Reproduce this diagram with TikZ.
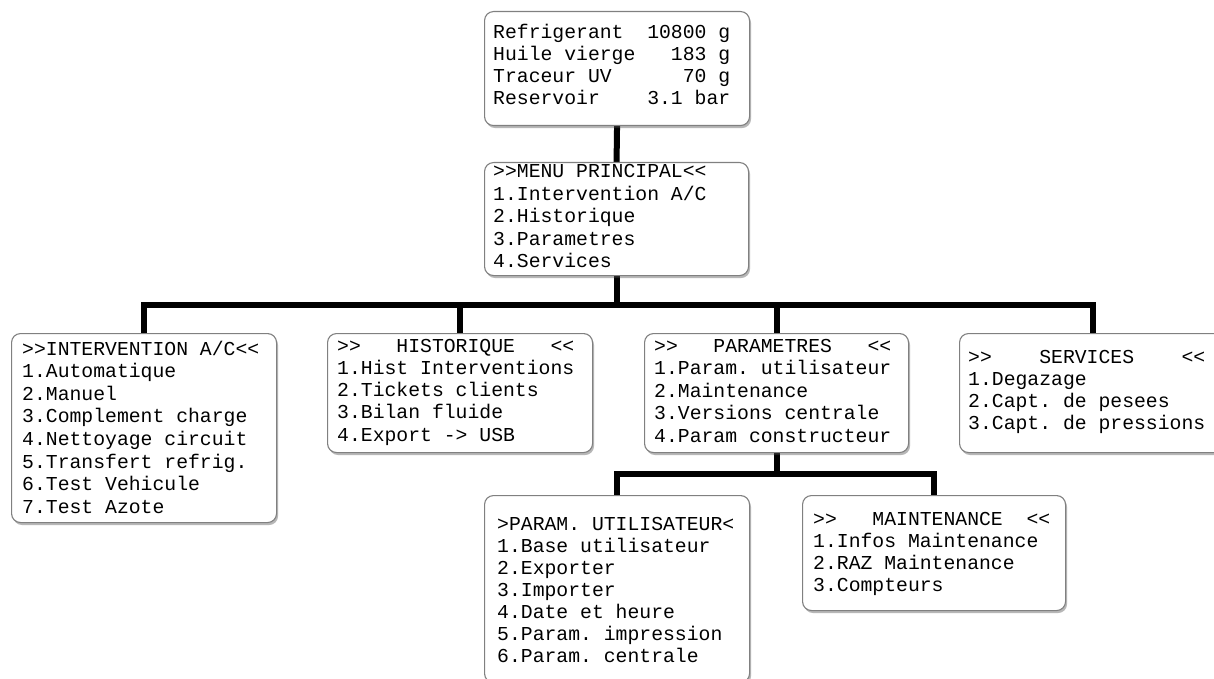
\documentclass[tikz,border=0pt]{standalone}
\usepackage{fontspec}
\newfontfamily\lcd{Liberation Mono}
\usetikzlibrary{shadows,backgrounds}
\begin{document}
\begin{tikzpicture}[x=1pt,y=-1pt,
  box/.style={draw=black!50, line width=1.1pt, fill=white, rounded corners=9pt,
    drop shadow={shadow xshift=1.5pt, shadow yshift=-2.5pt, opacity=0.4, fill=black!70},
    anchor=north west, inner sep=0pt},
  lbl/.style={anchor=base west, inner sep=0pt, font=\lcd\fontsize{19.75}{#1}\selectfont},
  lbl/.default=22.4,
  conn/.style={line width=6pt, line join=miter, draw=black}]
\useasboundingbox (0,0) rectangle (1214,679);

% boxes
\node[box, minimum width=265pt, minimum height=114pt] (top) at (484,11) {};
\node[box, minimum width=264pt, minimum height=113pt] (menu) at (484,162) {};
\node[box, minimum width=265pt, minimum height=189pt] (interv) at (11,333) {};
\node[box, minimum width=265pt, minimum height=119pt] (hist) at (327,333) {};
\node[box, minimum width=264pt, minimum height=119pt] (param) at (644,333) {};
\node[box, minimum width=266pt, minimum height=119pt] (serv) at (959,333) {};
\node[box, minimum width=265pt, minimum height=187pt] (pu) at (484,495) {};
\node[box, minimum width=263pt, minimum height=115pt] (maint) at (802,495) {};

% texts
\node[lbl=21.7] (topT) at (493,39) {\begin{tabular}[t]{@{}l@{}}
Refrigerant~~10800~g\\
Huile~vierge~~~183~g\\
Traceur~UV~~~~~~70~g\\
Reservoir~~~~3.1~bar\end{tabular}};

\node[lbl=22.4] (menuT) at (493,178) {\begin{tabular}[t]{@{}l@{}}
>{}>MENU~PRINCIPAL<{}<\\
1.Intervention~A/C\\
2.Historique\\
3.Parametres\\
4.Services\end{tabular}};

\node[lbl=22.6] (intervT) at (22,355) {\begin{tabular}[t]{@{}l@{}}
>{}>INTERVENTION~A/C<{}<\\
1.Automatique\\
2.Manuel\\
3.Complement~charge\\
4.Nettoyage~circuit\\
5.Transfert~refrig.\\
6.Test~Vehicule\\
7.Test~Azote\end{tabular}};

\node[lbl=22.3] (histT) at (337,352) {\begin{tabular}[t]{@{}l@{}}
>{}>~~~HISTORIQUE~~~<{}<\\
1.Hist~Interventions\\
2.Tickets~clients\\
3.Bilan~fluide\\
4.Export~->~USB\end{tabular}};

\node[lbl=22.5] (paramT) at (654,352) {\begin{tabular}[t]{@{}l@{}}
>{}>~~~PARAMETRES~~~<{}<\\
1.Param.~utilisateur\\
2.Maintenance\\
3.Versions~centrale\\
4.Param~constructeur\end{tabular}};

\node[lbl=22.3] (servT) at (968,363) {\begin{tabular}[t]{@{}l@{}}
>{}>~~~~SERVICES~~~~<{}<\\
1.Degazage\\
2.Capt.~de~pesees\\
3.Capt.~de~pressions\end{tabular}};

\node[lbl=22.0] (puT) at (497,530) {\begin{tabular}[t]{@{}l@{}}
>PARAM.~UTILISATEUR<\\
1.Base~utilisateur\\
2.Exporter\\
3.Importer\\
4.Date~et~heure\\
5.Param.~impression\\
6.Param.~centrale\end{tabular}};

\node[lbl=22.3] (maintT) at (813,525) {\begin{tabular}[t]{@{}l@{}}
>{}>~~~MAINTENANCE~~<{}<\\
1.Infos~Maintenance\\
2.RAZ~Maintenance\\
3.Compteurs\end{tabular}};

\coordinate (busA) at (0,305);
\coordinate (busB) at (0,474);

\begin{pgfonlayer}{background}
\fill[white] (0,0) rectangle (1214,679);
\draw[conn] (top.south) -- (menu.north);
\draw[conn] (menu.south) -- (menu.south |- busA);
\draw[conn] (interv.north) -- (interv.north |- busA) -- (serv.north |- busA) -- (serv.north);
\draw[conn] (hist.north) -- (hist.north |- busA);
\draw[conn] (param.north) -- (param.north |- busA);
\draw[conn] (param.south) -- (param.south |- busB);
\draw[conn] (pu.north) -- (pu.north |- busB) -- (maint.north |- busB) -- (maint.north);
\end{pgfonlayer}
\end{tikzpicture}
\end{document}
